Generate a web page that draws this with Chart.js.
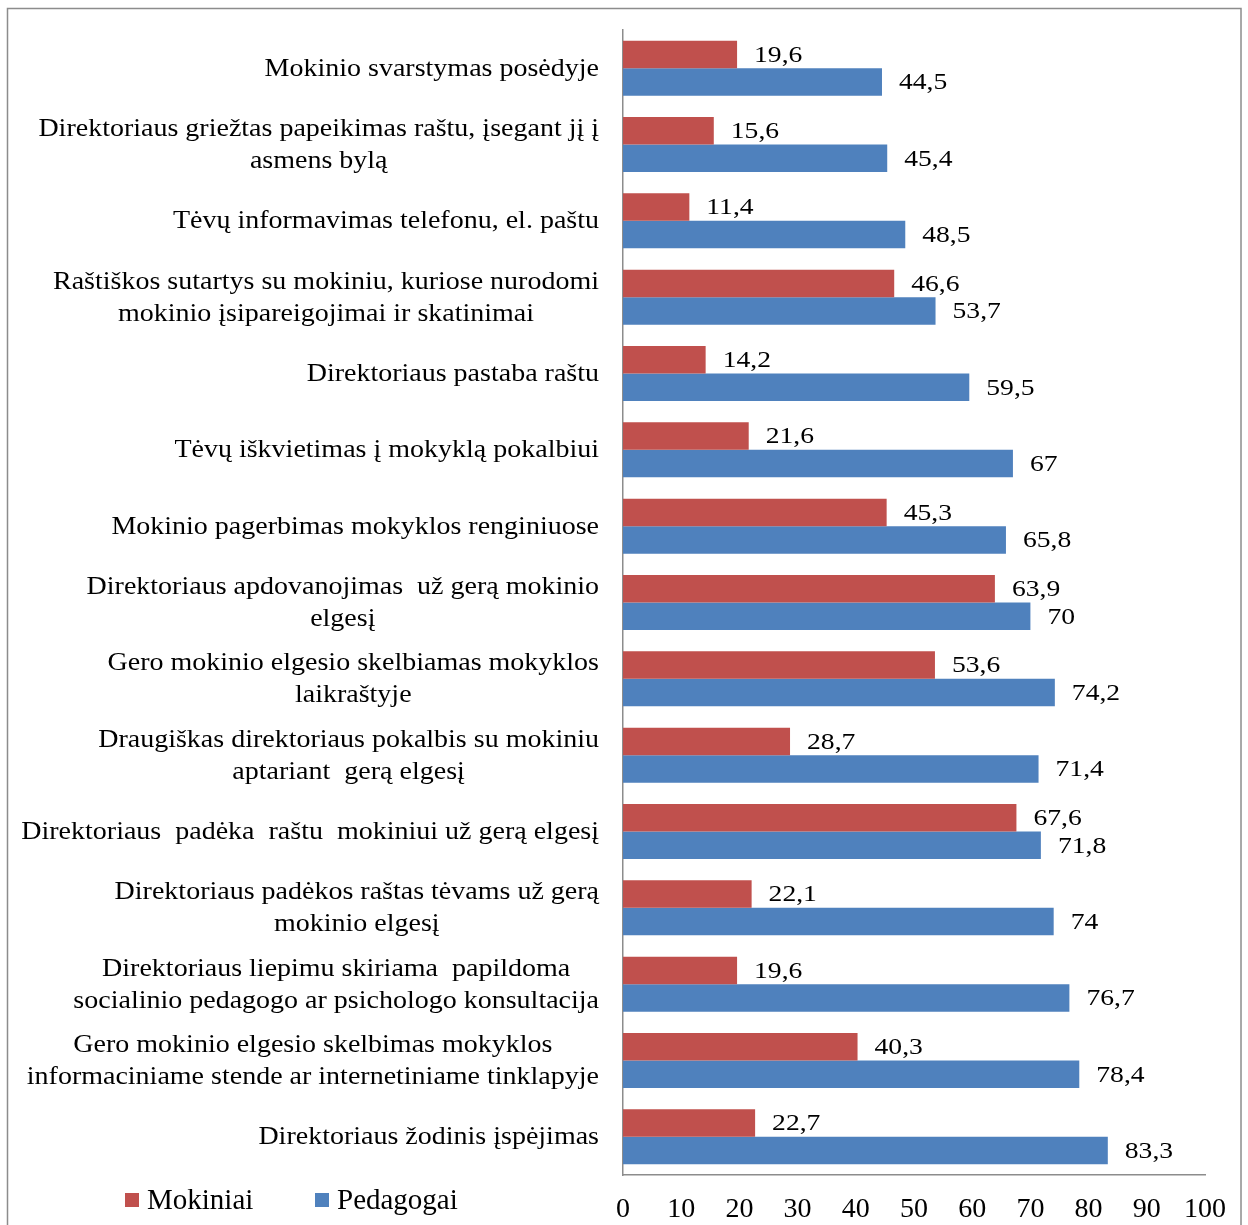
<!DOCTYPE html>
<html>
<head>
<meta charset="utf-8">
<script src="https://cdn.jsdelivr.net/npm/chart.js@4"></script>
<style>
  html, body { margin: 0; padding: 0; background: #fff; }
  #wrap { width: 1248px; height: 1225px; position: relative; }
</style>
</head>
<body>
<div id="wrap"><canvas id="barChart" width="1248" height="1225"></canvas></div>
<script>
const categories = [
    'Mokinio svarstymas posėdyje',
    ['Direktoriaus griežtas papeikimas raštu, įsegant jį į', 'asmens bylą'],
    'Tėvų informavimas telefonu, el. paštu',
    ['Raštiškos sutartys su mokiniu, kuriose nurodomi', 'mokinio įsipareigojimai ir skatinimai'],
    'Direktoriaus pastaba raštu',
    'Tėvų iškvietimas į mokyklą pokalbiui',
    'Mokinio pagerbimas mokyklos renginiuose',
    ['Direktoriaus apdovanojimas  už gerą mokinio', 'elgesį'],
    ['Gero mokinio elgesio skelbiamas mokyklos', 'laikraštyje'],
    ['Draugiškas direktoriaus pokalbis su mokiniu', 'aptariant  gerą elgesį'],
    'Direktoriaus  padėka  raštu  mokiniui už gerą elgesį',
    ['Direktoriaus padėkos raštas tėvams už gerą', 'mokinio elgesį'],
    ['Direktoriaus liepimu skiriama  papildoma', 'socialinio pedagogo ar psichologo konsultacija'],
    ['Gero mokinio elgesio skelbimas mokyklos', 'informaciniame stende ar internetiniame tinklapyje'],
    'Direktoriaus žodinis įspėjimas'
];

const mokiniai = [19.6, 15.6, 11.4, 46.6, 14.2, 21.6, 45.3, 63.9, 53.6, 28.7, 67.6, 22.1, 19.6, 40.3, 22.7];
const pedagogai = [44.5, 45.4, 48.5, 53.7, 59.5, 67, 65.8, 70, 74.2, 71.4, 71.8, 74, 76.7, 78.4, 83.3];

const seriesNames = ['Mokiniai', 'Pedagogai'];
const xMin = 0, xMax = 100, xStep = 10;

const RED = '#C0504D';
const BLUE = '#4F81BD';
const FONT = '"Liberation Serif", "Times New Roman", serif';
const STRETCH = 1.12; // the text in the picture is a bit wider than the font

function fmt(v) {
    return String(v).replace('.', ',');
}

// draw text stretched horizontally, anchored like textAlign
function wideText(c, txt, x, y, align, sx) {
    const w = c.measureText(txt).width * sx;
    let left = x;
    if (align === 'center') left = x - w / 2;
    if (align === 'right') left = x - w;
    c.save();
    c.translate(left, y);
    c.scale(sx, 1);
    c.textAlign = 'left';
    c.fillText(txt, 0, 0);
    c.restore();
}

// frame around the whole picture
const framePlugin = {
    id: 'frame',
    beforeDraw(chart) {
        const c = chart.ctx;
        c.save();
        c.strokeStyle = '#8c8c8c';
        c.lineWidth = 1.5;
        c.strokeRect(7.5, 8.5, 1233.5, 1230);
        c.restore();
    }
};

// category labels: block right-aligned, lines centred within the block
const catLabelPlugin = {
    id: 'catLabels',
    afterDraw(chart) {
        const c = chart.ctx;
        const y = chart.scales.y;
        const right = 599;
        const lineH = 32;
        c.save();
        c.font = '25px ' + FONT;
        c.fillStyle = '#000';
        c.textBaseline = 'middle';
        categories.forEach((lab, i) => {
            const lines = Array.isArray(lab) ? lab : [lab];
            const cy = y.getPixelForValue(i) + 1;
            const blockW = Math.max(...lines.map(l => c.measureText(l).width)) * STRETCH;
            const cx = right - blockW / 2;
            lines.forEach((l, k) => {
                const ly = cy + (k - (lines.length - 1) / 2) * lineH;
                wideText(c, l, cx, ly, 'center', STRETCH);
            });
        });
        c.restore();
    }
};

// value labels at bar ends
const valueLabelPlugin = {
    id: 'valueLabels',
    afterDatasetsDraw(chart) {
        const c = chart.ctx;
        c.save();
        c.font = '24px ' + FONT;
        c.fillStyle = '#000';
        c.textBaseline = 'middle';
        chart.data.datasets.forEach((ds, di) => {
            const meta = chart.getDatasetMeta(di);
            meta.data.forEach((bar, i) => {
                wideText(c, fmt(ds.data[i]), bar.x + 17, bar.y + 1, 'left', 1.15);
            });
        });
        c.restore();
    }
};

// x tick labels, positions taken from the x scale
const xTickPlugin = {
    id: 'xTicks',
    afterDraw(chart) {
        const c = chart.ctx;
        const x = chart.scales.x;
        c.save();
        c.font = '28px ' + FONT;
        c.fillStyle = '#000';
        c.textAlign = 'center';
        c.textBaseline = 'middle';
        x.ticks.forEach(t => {
            c.fillText(String(t.value), x.getPixelForValue(t.value), x.bottom + 35);
        });
        c.restore();
    }
};

// legend at the bottom left
const legendPlugin = {
    id: 'bottomLegend',
    afterDraw(chart) {
        const c = chart.ctx;
        const items = [
            { x: 125, color: RED, text: seriesNames[0] },
            { x: 315, color: BLUE, text: seriesNames[1] }
        ];
        c.save();
        c.font = '29px ' + FONT;
        c.textAlign = 'left';
        c.textBaseline = 'middle';
        items.forEach(it => {
            c.fillStyle = it.color;
            c.fillRect(it.x, 1193, 14, 14);
            c.fillStyle = '#000';
            c.fillText(it.text, it.x + 22, 1201);
        });
        c.restore();
    }
};

const ctx = document.getElementById('barChart').getContext('2d');

new Chart(ctx, {
    type: 'bar',
    data: {
        labels: categories,
        datasets: [
            {
                label: seriesNames[0],
                data: mokiniai,
                backgroundColor: RED,
                borderWidth: 0,
                categoryPercentage: 0.72,
                barPercentage: 1.0
            },
            {
                label: seriesNames[1],
                data: pedagogai,
                backgroundColor: BLUE,
                borderWidth: 0,
                categoryPercentage: 0.72,
                barPercentage: 1.0
            }
        ]
    },
    options: {
        indexAxis: 'y',
        responsive: false,
        animation: false,
        layout: {
            padding: { left: 623, right: 43, top: 30, bottom: 50 }
        },
        plugins: {
            legend: { display: false },
            tooltip: { enabled: false }
        },
        scales: {
            x: {
                min: xMin,
                max: xMax,
                ticks: { stepSize: xStep, display: false },
                grid: { display: false, drawTicks: false },
                border: { display: true, color: '#8c8c8c', width: 1.5 }
            },
            y: {
                ticks: { display: false },
                grid: { display: false, drawTicks: false },
                border: { display: true, color: '#8c8c8c', width: 1.5 }
            }
        }
    },
    plugins: [framePlugin, catLabelPlugin, valueLabelPlugin, xTickPlugin, legendPlugin]
});
</script>
</body>
</html>
